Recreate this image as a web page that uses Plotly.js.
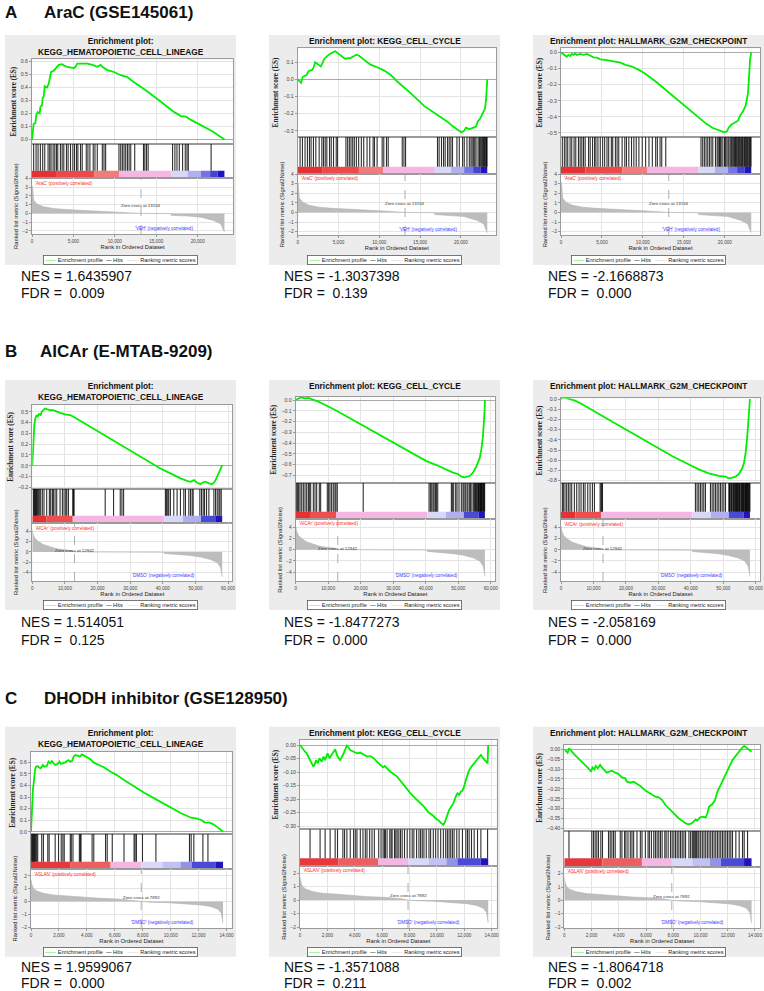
<!DOCTYPE html>
<html><head><meta charset="utf-8">
<script src="https://cdn.plot.ly/plotly-3.0.1.min.js"></script>
<style>html,body{margin:0;padding:0;background:#fff;}#chart{width:764px;height:991px;}</style>
</head><body><div id="chart"></div>
<script>
// ---------------- DATA ----------------
// Row A: AraC (GSE145061)
const A_heading = ["A", "AraC (GSE145061)"];
const A_zeroCross = 13154;
const A_posLabel = "'AraC' (positively correlated)";
const A_negLabel = "'VEH' (negatively correlated)";
const A_rankX   = [0,80,200,600,1400,2600,4200,6200,8300,10500,13154,16750,16800,18800,20400,22000,22800,23150,23230];
const A_rankVal = [3.2,2.9,1.5,1.06,0.75,0.55,0.43,0.35,0.28,0.15,0,-0.03,-0.22,-0.3,-0.43,-0.83,-1.2,-2.0,-2.1];
const A_cbarEdges = [0,3000,7500,10500,16800,18800,20400,21500,22400,23230];
const A_cbarLevel = [3.5,2.6,1.3,0.3,-0.3,-0.8,-1.6,-2.6,-3.8];

const A1_esRank = [0,81,202,404,525,687,929,1010,1212,1293,1414,1535,1818,2020,2141,2303,2626,2828,3232,3636,3838,4242,4646,5051,5253,5455,5859,6667,7273,7879,8283,8485,9091,9899,10707,11515,12323,13939,15556,17172,17980,18586,19192,20404,21616,21818,22424,23230];
const A1_esValue = [0,0.07,0.12,0.125,0.19,0.21,0.2,0.25,0.265,0.32,0.33,0.41,0.40,0.43,0.48,0.52,0.53,0.545,0.575,0.58,0.57,0.56,0.555,0.55,0.56,0.585,0.585,0.585,0.575,0.56,0.575,0.56,0.535,0.52,0.495,0.48,0.44,0.37,0.29,0.21,0.18,0.175,0.15,0.11,0.065,0.06,0.033,0];
const A1_hits = [200,490,730,1010,1290,1540,1940,2140,2300,2550,2750,2950,3110,3430,3640,3840,4160,4360,4650,4930,5130,5370,5540,5860,6060,6550,6750,6990,7390,7600,7880,8490,8690,8890,10500,10710,10910,11110,11310,11520,11720,11920,12400,13460,13620,13820,14020,16970,17250,17500,17780,18180,18500,18710,18870,21620];

const A2_esRank = [0,287,411,616,821,1109,1314,1520,1725,1930,2136,2546,2834,3080,3244,3573,3984,4600,4887,5216,5832,6119,6448,6858,7187,7474,8090,8912,9938,10554,11376,12197,13840,15483,17125,18357,18973,19589,20082,20411,20616,21027,21437,21848,22053,22382,22669,22957,23080,23170,23230];
const A2_esValue = [0,-0.012,-0.02,0.014,0.02,0.027,0.047,0.053,0.053,0.067,0.1,0.086,0.076,0.1,0.12,0.135,0.15,0.165,0.155,0.14,0.12,0.125,0.125,0.135,0.145,0.14,0.115,0.086,0.067,0.053,0.027,-0.012,-0.08,-0.155,-0.208,-0.247,-0.273,-0.296,-0.31,-0.3,-0.282,-0.292,-0.286,-0.276,-0.247,-0.227,-0.198,-0.169,-0.12,-0.05,0];
const A2_hits = [290,580,900,1190,1440,1640,1930,2220,2630,2960,3160,3370,3570,3900,4110,4390,4720,4890,5910,6120,6330,6530,6740,6940,7190,7470,7800,8090,8500,8830,9240,9410,9730,10350,10550,10880,11090,12810,13020,13220,17130,17330,17620,17870,18070,18360,18560,18770,18970,19510,19800,20210,20410,20740,21030,21230,21380,21560,21700,21850,22100,22260,22350,22460,22570,22670,22780,22880,22980,23080,23140,23200];

const A3_esRank = [0,287,492,697,902,1107,1312,1517,1722,1927,2337,2747,3157,3567,3977,4387,4797,5412,6027,6642,7257,7872,8692,9512,10332,11562,12792,14022,15252,16482,17712,18532,19147,19557,19967,20254,20459,20787,21197,21607,21812,22222,22550,22714,22837,22960,23083,23230];
const A3_esValue = [0,-0.01,-0.016,-0.027,-0.016,-0.023,-0.01,-0.016,-0.006,-0.016,-0.01,-0.016,-0.01,-0.023,-0.031,-0.033,-0.043,-0.047,-0.053,-0.058,-0.064,-0.078,-0.088,-0.109,-0.134,-0.181,-0.233,-0.288,-0.34,-0.387,-0.442,-0.469,-0.479,-0.49,-0.496,-0.49,-0.469,-0.449,-0.438,-0.424,-0.397,-0.366,-0.331,-0.294,-0.253,-0.15,-0.047,0];
const A3_hits = [164,410,615,820,1107,1312,1599,1804,2132,2337,2542,2747,2952,3362,3567,3854,4100,4264,4510,4797,5084,5330,5617,5822,6150,6314,6642,6847,7052,7462,7790,7995,8282,8610,8897,9184,9512,9922,10332,10742,11152,11562,11767,12095,12300,12792,17097,17302,17507,17712,17917,18122,18327,18532,18860,19065,19200,19352,19450,19557,19762,19967,20050,20172,20377,20500,20664,20800,20910,21050,21197,21300,21402,21500,21607,21700,21812,21950,22017,22150,22222,22350,22427,22550,22632,22750,22837,22950,23042,23120,23206];

// Row B: AICAr (E-MTAB-9209)
const B_heading = ["B", "AICAr (E-MTAB-9209)"];
const B_zeroCross = 12942;
const B_posLabel = "'AICAr' (positively correlated)";
const B_negLabel = "'DMSO' (negatively correlated)";
const B_rankX   = [0,300,820,1850,3380,5430,7480,9530,12100,12942,40400,40500,44400,48500,51600,54600,56700,57700,58200];
const B_rankVal = [4.3,3.25,2.6,2.0,1.4,0.94,0.6,0.44,0.25,0,-0.05,-0.3,-0.45,-0.7,-1.0,-1.45,-2.06,-3.0,-4.8];
const B_cbarEdges = [0,4400,12400,40500,46200,51700,56300,58200];
const B_cbarLevel = [3.5,2.4,0.3,-0.3,-0.8,-2.4,-3.8];

const B1_esRank = [0,205,410,615,923,1333,1640,2050,2563,2870,3383,3895,4408,5433,6458,7483,8508,10045,11583,12608,15683,20808,25933,31058,36183,39258,42333,45408,47458,48483,49508,50533,51558,52070,53095,54120,55145,55658,56170,56683,57195,57708,58015,58200];
const B1_esValue = [0,0.176,0.33,0.376,0.438,0.469,0.453,0.478,0.469,0.5,0.515,0.53,0.524,0.515,0.515,0.506,0.49,0.475,0.469,0.453,0.398,0.305,0.216,0.123,0.031,-0.025,-0.071,-0.117,-0.139,-0.148,-0.133,-0.157,-0.17,-0.157,-0.148,-0.163,-0.17,-0.157,-0.133,-0.102,-0.056,-0.04,-0.009,0.006];
const B1_hits = [308,513,718,923,1128,1333,1538,1845,2153,2563,3075,3588,4408,5228,5638,6150,6458,6970,7483,8508,9225,9738,10250,10558,11070,12403,12608,12813,22345,24908,26958,27470,27983,40795,41103,41513,41820,42333,43358,44383,45408,46433,46945,47970,48483,48995,49303,51353,51865,52378,52788,53403,54120,55658,56170,56683,57195,57503,57913];

const B2_esRank = [0,512,1023,1535,2148,2864,3887,4910,5933,6956,8491,10537,12583,16675,21790,26905,32020,37135,40204,43273,46342,48388,49922,50945,51968,52480,53503,54526,55549,56572,57083,57595,57902,58106,58200];
const B2_esValue = [0,0.006,0.015,0.025,0.019,0.015,0.019,0.009,0,-0.015,-0.037,-0.068,-0.099,-0.17,-0.257,-0.347,-0.434,-0.52,-0.567,-0.604,-0.65,-0.675,-0.687,-0.712,-0.718,-0.712,-0.706,-0.675,-0.619,-0.542,-0.464,-0.34,-0.217,-0.093,0];
const B2_hits = [307,614,921,1330,1841,2353,2864,3376,3887,4194,4604,5422,5933,6445,7263,7673,9719,10128,10537,11048,11560,12071,12378,12788,20767,41022,41432,41841,42250,42557,42966,43273,43682,47876,48183,48592,49206,49615,50229,50945,51457,51764,52173,52685,52991,53503,53810,54219,54731,55037,55300,55549,55800,56061,56200,56368,56600,56777,56900,57083,57200,57390,57600,57799,57950,58106];

const B3_esRank = [0,412,927,1751,2781,4326,6386,9476,13596,18746,23896,29046,34196,38316,42436,45526,48616,50676,51706,52736,53766,54796,55826,56341,56856,57371,57680,57989,58200];
const B3_esValue = [0,0.013,0.016,0.007,0.003,-0.016,-0.049,-0.108,-0.183,-0.277,-0.369,-0.467,-0.558,-0.624,-0.689,-0.728,-0.754,-0.761,-0.777,-0.77,-0.761,-0.735,-0.679,-0.63,-0.532,-0.369,-0.206,-0.075,0];
const B3_hits = [412,721,1236,1751,2266,2781,3296,4120,4841,5562,6180,6901,7416,8240,8961,9682,10300,12051,12360,12566,12772,41406,41921,42436,42951,43466,43981,44496,46041,46556,47071,47586,48101,48616,49131,49646,50161,50676,51706,51900,52015,52324,52500,52736,53045,53200,53354,53600,53766,54075,54200,54384,54600,54796,55000,55105,55414,55600,55826,56000,56135,56300,56444,56700,56856,57000,57165,57300,57474,57700,57886,58000,58195];

// Row C: DHODH inhibitor (GSE128950)
const C_heading = ["C", "DHODH inhibitor (GSE128950)"];
const C_zeroCross = 7892;
const C_posLabel = "'ASLAN' (positively correlated)";
const C_negLabel = "'DMSO' (negatively correlated)";
const C_rankX   = [0,48,170,410,890,1610,2570,3770,4980,6180,7380,7892,8500,9780,10990,12190,12900,13390,13630,13750];
const C_rankVal = [1.7,1.38,1.03,0.82,0.64,0.51,0.44,0.33,0.25,0.2,0.1,0,-0.05,-0.09,-0.17,-0.27,-0.4,-0.6,-0.92,-1.7];
const C_cbarEdges = [0,2800,5700,7900,9400,10700,11500,13200,13750];
const C_cbarLevel = [3.2,2,0.3,-0.3,-0.6,-1.2,-2.4,-3.8];

const C1_esRank = [0,48,96,144,192,240,288,361,457,601,697,841,962,1130,1250,1370,1490,1611,1731,1899,2043,2140,2332,2452,2572,2692,2813,2933,3053,3173,3342,3486,3654,3822,4015,4255,4495,4856,5217,5697,6058,6659,7380,8101,8823,9784,10746,11467,11827,12188,12428,12789,13029,13390,13750];
const C1_esValue = [0,0.159,0.274,0.375,0.418,0.49,0.534,0.562,0.568,0.554,0.548,0.577,0.562,0.568,0.606,0.592,0.611,0.592,0.577,0.586,0.606,0.586,0.592,0.6,0.611,0.62,0.606,0.611,0.649,0.663,0.658,0.649,0.669,0.655,0.643,0.626,0.597,0.577,0.557,0.519,0.496,0.447,0.389,0.337,0.288,0.222,0.159,0.121,0.115,0.101,0.081,0.078,0.066,0.035,0];
const C1_hits = [48,96,144,192,240,288,337,409,481,769,889,1202,1298,1731,1971,2164,2284,2380,2813,2885,3005,3462,3534,3582,4375,4495,5337,5457,5818,6659,7380,7452,7549,7981,8943,11347,11467,11659,12308,12669];

const C2_esRank = [0,122,245,367,489,612,734,856,979,1052,1175,1297,1419,1591,1713,1835,2007,2153,2325,2569,2741,2936,3132,3303,3426,3548,3671,3915,4160,4405,4649,4894,5139,5383,5628,5873,6069,6191,6362,6607,7096,7586,8075,8564,9054,9421,9666,9910,10155,10326,10473,10596,10767,10889,11060,11207,11379,11501,11623,11746,11868,11990,12113,12235,12357,12528,12724,12920,13092,13214,13385,13581,13703,13750];
const C2_esValue = [0,-0.009,-0.016,-0.025,-0.031,-0.043,-0.056,-0.07,-0.08,-0.074,-0.056,-0.068,-0.049,-0.062,-0.043,-0.056,-0.031,-0.049,-0.037,-0.016,-0.043,-0.056,-0.037,-0.019,-0.002,-0.009,-0.019,-0.025,-0.031,-0.028,-0.035,-0.043,-0.041,-0.049,-0.062,-0.074,-0.083,-0.078,-0.086,-0.099,-0.117,-0.148,-0.179,-0.204,-0.228,-0.251,-0.259,-0.272,-0.28,-0.29,-0.296,-0.284,-0.253,-0.241,-0.228,-0.216,-0.191,-0.179,-0.185,-0.173,-0.169,-0.154,-0.13,-0.111,-0.093,-0.08,-0.068,-0.056,-0.043,-0.037,-0.049,-0.062,-0.068,0];
const C2_hits = [734,1468,1835,2202,2569,2741,3132,3255,3426,3671,3915,4038,4160,4405,4600,4772,4894,5090,5261,5432,5750,5922,6069,6166,6240,6362,6558,6656,6729,6901,6998,7096,7219,7341,7463,7635,7830,8026,8197,8320,8516,8687,8809,8932,9054,9225,9421,9543,9739,9910,10082,10277,10473,10644,10767,10889,11012,11134,11257,11452,11623,11868,12113,12235,12357,12528,12724,12969,13214,13703];

const C3_esRank = [0,123,246,344,541,787,1033,1279,1525,1771,1968,2066,2214,2312,2460,2632,2755,2952,3124,3296,3493,3739,3985,4231,4477,4600,4846,5092,5338,5584,5953,6322,6691,6937,7183,7429,7675,7921,8167,8413,8659,8905,9151,9348,9471,9643,9766,9963,10135,10381,10504,10627,10873,11070,11242,11365,11562,11734,11857,12054,12226,12349,12546,12718,12890,13087,13210,13333,13456,13628,13750];
const C3_esValue = [0,-0.007,-0.017,0.005,-0.012,-0.029,-0.046,-0.062,-0.079,-0.096,-0.113,-0.091,-0.101,-0.084,-0.096,-0.079,-0.091,-0.105,-0.118,-0.113,-0.108,-0.118,-0.125,-0.142,-0.147,-0.164,-0.169,-0.164,-0.176,-0.186,-0.209,-0.223,-0.24,-0.243,-0.257,-0.282,-0.299,-0.316,-0.333,-0.35,-0.361,-0.375,-0.38,-0.375,-0.367,-0.355,-0.361,-0.345,-0.341,-0.345,-0.324,-0.291,-0.277,-0.257,-0.215,-0.198,-0.164,-0.147,-0.122,-0.096,-0.079,-0.054,-0.037,-0.02,-0.007,0.01,0.017,0.01,0.005,-0.003,-0.012];
const C3_hits = [344,2017,2140,2263,2386,2509,2681,2804,3247,3370,3493,3616,3739,4108,4231,4428,4526,4674,4846,4969,5092,5338,5584,5707,5953,6150,6248,6396,6568,6691,6814,6937,7060,7183,7380,7478,7626,7798,7921,8044,8167,8290,8413,8536,8659,8782,8905,9151,9274,9397,9471,9545,9643,9717,9815,9889,10012,10135,10258,10381,10504,10627,10750,10873,10996,11119,11242,11365,11488,11611,11734,11857,11980,12103,12226,12349,12595,12841,13087,13210,13456];

// Panel titles and statistics
const titleCol1 = "Enrichment plot:<br>KEGG_HEMATOPOIETIC_CELL_LINEAGE";
const titleCol2 = "Enrichment plot: KEGG_CELL_CYCLE";
const titleCol3 = "Enrichment plot: HALLMARK_G2M_CHECKPOINT";
const NES = ["1.6435907","-1.3037398","-2.1668873","1.514051","-1.8477273","-2.058169","1.9599067","-1.3571088","-1.8064718"];
const FDR = ["0.009","0.139","0.000","0.125","0.000","0.000","0.000","0.211","0.002"];

// ---------------- LAYOUT / STYLE ----------------
const W = 764, H = 991;
const SANS = '"Liberation Sans", Arial, sans-serif';
const SERIF = '"Liberation Serif", "Times New Roman", serif';
const GRID = '#e4e4e4';
const CBAR_SCALE = [[0,'#1a08b0'],[0.05,'#2a1ec8'],[0.2,'#4a4ad8'],[0.3,'#7474e4'],[0.4,'#b0b0f0'],[0.46,'#d8d8f8'],[0.5,'#ecd0f0'],[0.54,'#f7b4e2'],[0.66,'#f27c7c'],[0.8,'#ee4e4e'],[1,'#e32227']];

const ROWS = {
  A:{heading:A_heading, headY:12, headX:41.5, zero:A_zeroCross, zcY:0.9, pos:A_posLabel, neg:A_negLabel, rank:A_rankX, metric:A_rankVal, edges:A_cbarEdges, levels:A_cbarLevel, xmax:24300, xdtick:5000, rankRange:[-2.35,4.0], rankDtick:1, boxY:[35,265], nesY:[276,293], legY:259.5},
  B:{heading:B_heading, headY:351.5, headX:38, zero:B_zeroCross, zcY:0.3, pos:B_posLabel, neg:B_negLabel, rank:B_rankX, metric:B_rankVal, edges:B_cbarEdges, levels:B_cbarLevel, xmax:61300, xdtick:10000, rankRange:[-5.6,5.5], rankDtick:2, boxY:[380,610], nesY:[621.7,639.5], legY:605},
  C:{heading:C_heading, headY:698, headX:41.5, zero:C_zeroCross, zcY:0.3, pos:C_posLabel, neg:C_negLabel, rank:C_rankX, metric:C_rankVal, edges:C_cbarEdges, levels:C_cbarLevel, xmax:14370, xdtick:2000, rankRange:[-2.07,2.52], rankDtick:1, boxY:[726.7,956.7], nesY:[967,982.5], legY:951.5}
};
const COLS = [
  {box:[5,236], title:titleCol1, nesX:19, legX:120.5},
  {box:[269,500], title:titleCol2, nesX:282, legX:384.5},
  {box:[533,764], title:titleCol3, nesX:546, legX:648}
];
const PANELS = [
  {row:'A', col:0, esX:A1_esRank, esY:A1_esValue, hits:A1_hits, plotX:[32,233.3], bands:[59.3,144,170.7,178.3,234], esRange:[-0.036,0.618], esDtick:0.1, esFmt:'.1f', titleY:46.2},
  {row:'A', col:1, esX:A2_esRank, esY:A2_esValue, hits:A2_hits, plotX:[297.7,496], bands:[48.3,136.7,166.7,174,235], esRange:[-0.335,0.182], esDtick:0.1, esFmt:'.1f', titleY:40.7},
  {row:'A', col:2, esX:A3_esRank, esY:A3_esValue, hits:A3_hits, plotX:[561,760], bands:[48.3,137,166.7,174,235], esRange:[-0.525,0.025], esDtick:0.1, esFmt:'.1f', titleY:40.7},
  {row:'B', col:0, esX:B1_esRank, esY:B1_esValue, hits:B1_hits, plotX:[32.3,232.3], bands:[405,489,515.7,523.3,581], esRange:[-0.215,0.562], esDtick:0.1, esFmt:'.1f', titleY:391.7},
  {row:'B', col:1, esX:B2_esRank, esY:B2_esValue, hits:B2_hits, plotX:[295.7,495], bands:[396.7,482.7,511.7,519,581], esRange:[-0.768,0.031], esDtick:0.1, esFmt:'.1f', titleY:386},
  {row:'B', col:2, esX:B3_esRank, esY:B3_esValue, hits:B3_hits, plotX:[561,760], bands:[398.3,482.7,511.7,519.3,581], esRange:[-0.82,0.007], esDtick:0.1, esFmt:'.1f', titleY:386},
  {row:'C', col:0, esX:C1_esRank, esY:C1_esValue, hits:C1_hits, plotX:[31,231.7], bands:[751.7,834,861.7,869.3,928], esRange:[-0.02,0.692], esDtick:0.1, esFmt:'.1f', titleY:738.3},
  {row:'C', col:1, esX:C2_esRank, esY:C2_esValue, hits:C2_hits, plotX:[300,496.7], bands:[740,829.3,858.3,866,928], esRange:[-0.312,0.0185], esDtick:0.05, esFmt:'.2f', titleY:733.3},
  {row:'C', col:2, esX:C3_esRank, esY:C3_esValue, hits:C3_hits, plotX:[564.3,760], bands:[745,830.7,858.3,866.7,928], esRange:[-0.412,0.022], esDtick:0.05, esFmt:'.2f', titleY:733.3}
];

const data = [], shapes = [], ann = [];
const layout = {
  width:W, height:H, margin:{l:0,r:0,t:0,b:0}, paper_bgcolor:'#ffffff', plot_bgcolor:'#ffffff',
  showlegend:false, barmode:'overlay', font:{family:SANS, color:'#222'}, hovermode:false
};
const px = v => v / W, py = v => 1 - v / H;
const id = k => (k === 1 ? '' : String(k));

// row headings
Object.keys(ROWS).forEach(key => {
  const R = ROWS[key];
  ann.push({xref:'paper', yref:'paper', x:px(3), y:py(R.headY), xanchor:'left', yanchor:'middle', showarrow:false,
            text:'<b>'+R.heading[0]+'</b>', font:{family:SANS, size:17, color:'#111'}});
  ann.push({xref:'paper', yref:'paper', x:px(R.headX), y:py(R.headY), xanchor:'left', yanchor:'middle', showarrow:false,
            text:'<b>'+R.heading[1]+'</b>', font:{family:SANS, size:17, color:'#111'}});
});

PANELS.forEach((p, i) => {
  const R = ROWS[p.row], C = COLS[p.col];
  const kE = 3*i+1, kH = 3*i+2, kR = 3*i+3;
  const [esT, esB, hB, cB, rB] = p.bands;
  const xd = [px(p.plotX[0]), px(p.plotX[1])];
  const dom = (t, b) => [py(b), py(t)];
  const h0 = (cB - hB) / (cB - esB);
  const frame = {showline:true, mirror:true, linecolor:'#9a9a9a', linewidth:1, automargin:false, zeroline:false, fixedrange:true};

  // grey panel background and white plotting area
  shapes.push({type:'rect', xref:'paper', yref:'paper', layer:'below', x0:px(C.box[0]), x1:px(C.box[1]), y0:py(R.boxY[1]), y1:py(R.boxY[0]), fillcolor:'#ececec', line:{width:0}});
  shapes.push({type:'rect', xref:'paper', yref:'paper', layer:'below', x0:xd[0], x1:xd[1], y0:py(rB), y1:py(esT), fillcolor:'#ffffff', line:{width:0}});

  layout['xaxis'+id(kE)] = Object.assign({}, frame, {domain:xd, anchor:'y'+id(kE), range:[0,R.xmax], tick0:0, dtick:R.xdtick, showticklabels:false, ticks:'', showgrid:true, gridcolor:GRID});
  layout['yaxis'+id(kE)] = Object.assign({}, frame, {domain:dom(esT,esB), anchor:'x'+id(kE), range:p.esRange, tick0:0, dtick:p.esDtick, tickformat:p.esFmt,
      showgrid:true, gridcolor:GRID, zeroline:true, zerolinecolor:'#aaaaaa', zerolinewidth:1, ticks:'outside', ticklen:2, tickcolor:'#999',
      tickfont:{size:5.2, color:'#444'}, title:{text:'<b>Enrichment score (ES)</b>', font:{family:SERIF, size:7.2, color:'#222'}, standoff:3}});
  layout['xaxis'+id(kH)] = Object.assign({}, frame, {domain:xd, anchor:'y'+id(kH), range:[0,R.xmax], showticklabels:false, ticks:'', showgrid:false});
  layout['yaxis'+id(kH)] = Object.assign({}, frame, {domain:dom(esB,cB), anchor:'x'+id(kH), range:[0,1], showticklabels:false, ticks:'', showgrid:false});
  layout['xaxis'+id(kR)] = Object.assign({}, frame, {domain:xd, anchor:'y'+id(kR), range:[0,R.xmax], tick0:0, dtick:R.xdtick, tickformat:',d',
      ticks:'outside', ticklen:2, tickcolor:'#999', tickfont:{size:4.6, color:'#444'}, showgrid:true, gridcolor:GRID,
      title:{text:'Rank in Ordered Dataset', font:{size:5.8, color:'#222'}, standoff:2}});
  layout['yaxis'+id(kR)] = Object.assign({}, frame, {domain:dom(cB,rB), anchor:'x'+id(kR), range:R.rankRange, tick0:0, dtick:R.rankDtick,
      ticks:'outside', ticklen:2, tickcolor:'#999', tickfont:{size:4.8, color:'#444'}, showgrid:true, gridcolor:GRID,
      title:{text:'Ranked list metric (Signal2Noise)', font:{size:5.8, color:'#222'}, standoff:3}});

  // enrichment score profile
  data.push({type:'scatter', mode:'lines', x:p.esX, y:p.esY, xaxis:'x'+id(kE), yaxis:'y'+id(kE),
             line:{color:'#00ee00', width:1.8}, name:'Enrichment profile'});
  // ranked-list colour bar
  const centers = [], widths = [], hts = [];
  for (let j = 0; j < R.levels.length; j++) {
    centers.push((R.edges[j] + R.edges[j+1]) / 2);
    widths.push(R.edges[j+1] - R.edges[j]);
    hts.push(h0);
  }
  data.push({type:'bar', x:centers, y:hts, width:widths, base:0, xaxis:'x'+id(kH), yaxis:'y'+id(kH),
             marker:{color:R.levels, colorscale:CBAR_SCALE, cmin:-4, cmax:4, line:{width:0}}, name:'Ranked list'});
  // hits
  const hx = [], hy = [];
  p.hits.forEach(h => { hx.push(h, h, null); hy.push(h0, 1, null); });
  data.push({type:'scatter', mode:'lines', x:hx, y:hy, xaxis:'x'+id(kH), yaxis:'y'+id(kH),
             line:{color:'rgba(0,0,0,0.82)', width:1.1}, name:'Hits'});
  // ranking metric
  data.push({type:'scatter', mode:'lines', x:R.rank, y:R.metric, fill:'tozeroy', fillcolor:'#bdbdbd',
             xaxis:'x'+id(kR), yaxis:'y'+id(kR), line:{color:'#b3b3b3', width:0.6}, name:'Ranking metric scores'});

  // zero cross
  shapes.push({type:'line', xref:'x'+id(kR), yref:'y'+id(kR)+' domain', x0:R.zero, x1:R.zero, y0:0, y1:1,
               line:{color:'#9a9a9a', width:0.8, dash:'dash'}});
  ann.push({xref:'x'+id(kR), yref:'y'+id(kR), x:R.zero, y:R.zcY, text:'Zero cross at '+R.zero, showarrow:false,
            xanchor:'center', yanchor:'middle', font:{size:4.4, color:'#333'}});
  ann.push({xref:'x'+id(kR)+' domain', yref:'y'+id(kR)+' domain', x:0.005, y:0.995, xanchor:'left', yanchor:'top',
            text:R.pos, showarrow:false, font:{size:4.6, color:'#ff2a2a'}});
  ann.push({xref:'x'+id(kR)+' domain', yref:'y'+id(kR)+' domain', x:0.655, y:0.015, xanchor:'center', yanchor:'bottom',
            text:R.neg, showarrow:false, font:{size:4.6, color:'#3a3aff'}});

  // panel title
  ann.push({xref:'paper', yref:'paper', x:px((C.box[0]+C.box[1])/2), y:py(p.titleY), xanchor:'center', yanchor:'middle',
            text:'<b>'+C.title+'</b>', showarrow:false, font:{size:8.3, color:'#111'}});
  // legend box
  ann.push({xref:'paper', yref:'paper', x:px(C.legX), y:py(R.legY), xanchor:'center', yanchor:'middle', showarrow:false,
            text:'<span style="color:#00ee00">——</span>\u00a0Enrichment profile\u00a0\u00a0<span style="color:#000">—</span>\u00a0Hits\u00a0\u00a0\u00a0<span style="color:#c8c8c8">——</span>\u00a0Ranking metric scores',
            font:{size:5.6, color:'#222'}, bordercolor:'#555', borderwidth:0.8, borderpad:1.2, bgcolor:'#ffffff'});
  // NES / FDR
  ann.push({xref:'paper', yref:'paper', x:px(C.nesX), y:py(R.nesY[0]), xanchor:'left', yanchor:'middle', showarrow:false,
            text:'NES = '+NES[i], font:{size:14, color:'#111'}});
  ann.push({xref:'paper', yref:'paper', x:px(C.nesX), y:py(R.nesY[1]), xanchor:'left', yanchor:'middle', showarrow:false,
            text:'FDR =\u00a0\u00a0'+FDR[i], font:{size:14, color:'#111'}});
});

layout.shapes = shapes;
layout.annotations = ann;
Plotly.newPlot('chart', data, layout, {staticPlot:true, displayModeBar:false});
</script>
</body></html>
